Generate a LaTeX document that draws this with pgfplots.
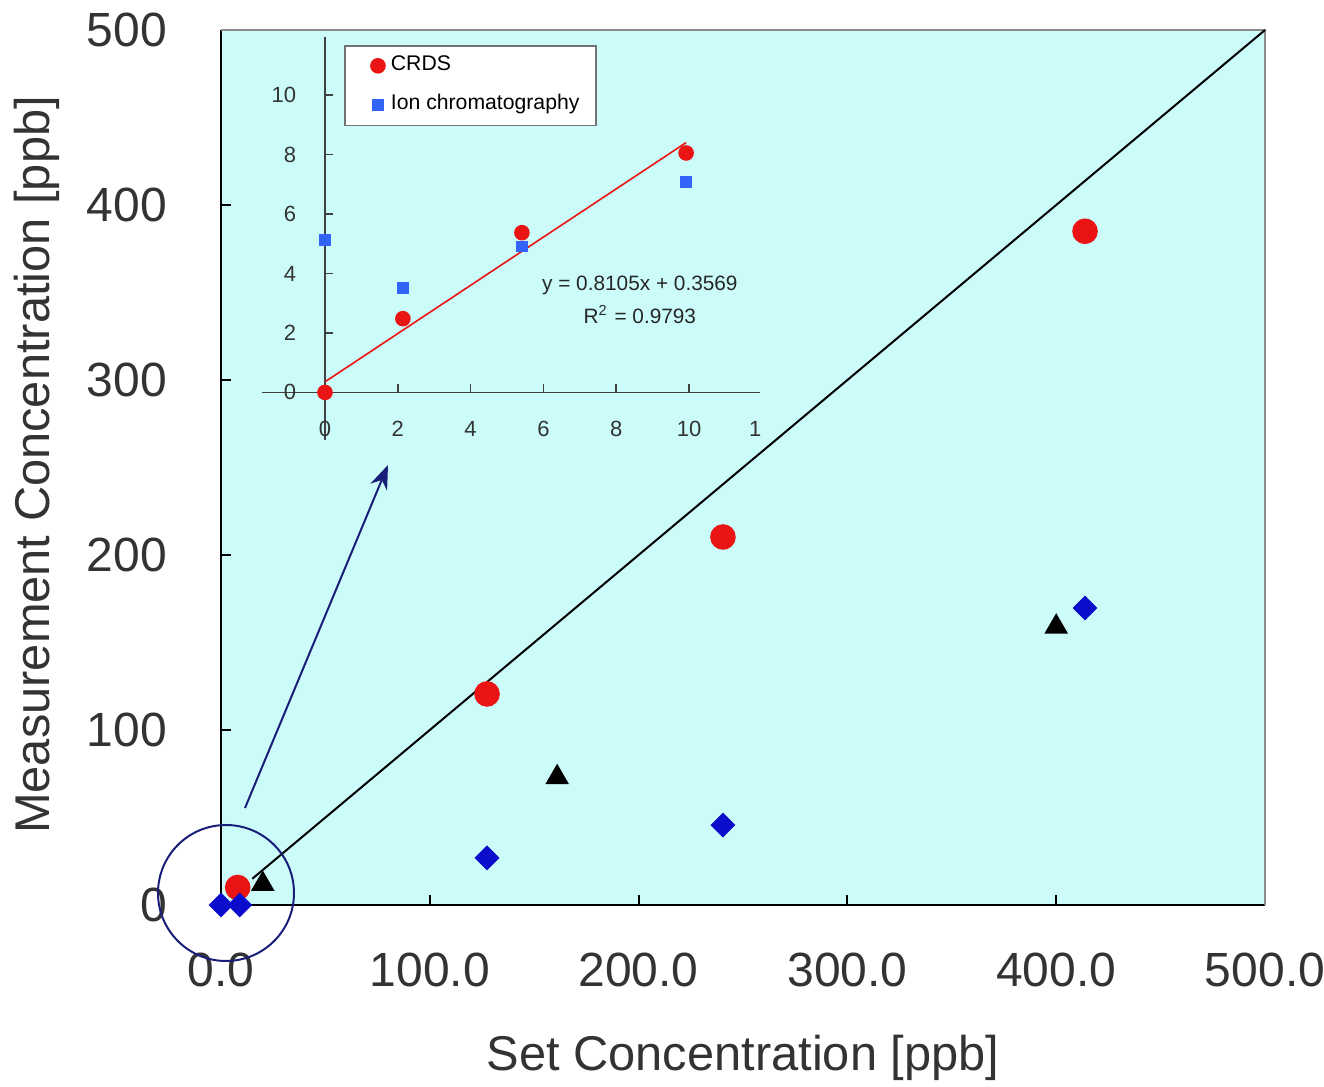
\documentclass[border=0pt]{standalone}
\usepackage{fontspec}
\setmainfont{Liberation Sans}
\usepackage{pgfplots}
\pgfplotsset{compat=1.18}
\usetikzlibrary{arrows.meta}
\definecolor{bgc}{RGB}{204,252,250}
\definecolor{mred}{RGB}{235,20,20}
\definecolor{mblue}{RGB}{12,12,205}
\definecolor{iblue}{RGB}{50,100,250}
\definecolor{navy}{RGB}{25,30,120}
\begin{document}
\begin{tikzpicture}
\path[use as bounding box] (0,0) rectangle (331bp,271.75bp);
\begin{axis}[
  at={(55.25bp,45.5bp)}, anchor=south west,
  scale only axis, width=261bp, height=218.75bp,
  xmin=0, xmax=500, ymin=0, ymax=500,
  axis background/.style={fill=bgc},
  axis x line*=bottom, axis y line*=left,
  axis line style={black, line width=0.6bp},
  tick align=inside, major tick length=2.5bp,
  tick style={black, line width=0.5bp},
  xtick={0,100,...,500}, ytick={0,100,...,500},
  xticklabels={0.0,100.0,200.0,300.0,400.0,500.0},
  yticklabels={0,100,200,300,400,500},
  tick label style={font=\fontsize{12bp}{14bp}\selectfont, text=black!80},
  xticklabel style={yshift=-8.5bp},
  yticklabel style={xshift=-10bp},
  xlabel={Set Concentration [ppb]},
  ylabel={Measurement Concentration [ppb]},
  label style={font=\fontsize{12.2bp}{14bp}\selectfont, text=black!80},
  x label style={at={(axis description cs:0.5,-0.175)}, anchor=center},
  y label style={at={(axis description cs:-0.176,0.503)}, anchor=center},
  clip=false,
]
\draw[black!45, line width=0.5bp] (rel axis cs:0,1) -- (rel axis cs:1,1) -- (rel axis cs:1,0);
\addplot[black, line width=0.5bp] coordinates {(15,15) (500,500)};
\addplot[only marks, mark=*, mark size=3bp, mred, mark options={fill=mred, draw=mred}]
  coordinates {(8,10) (127.4,120.6) (240.4,210.3) (413.8,385)};
\addplot[only marks, mark=square*, mark size=2bp, mblue, mark options={fill=mblue, draw=mblue, rotate=45}]
  coordinates {(0,0) (9,0) (127.4,26.9) (240.4,45.7) (413.8,169.7)};
\addplot[only marks, mark=triangle*, mark size=3bp, black, mark options={fill=black}]
  coordinates {(20,12) (161,73) (400,159)};
\end{axis}

\begin{axis}[
  at={(65.5bp,161.75bp)}, anchor=south west,
  scale only axis, width=124.5bp, height=100.75bp,
  xmin=-1.73, xmax=11.95, ymin=-1.6, ymax=11.95,
  axis lines=middle, axis line style={-, black!75, line width=0.4bp},
  axis background/.style={fill=bgc},
  hide obscured x ticks=false, hide obscured y ticks=false,
  /pgf/number format/assume math mode=true,
  xtick={0,2,...,10}, ytick={0,2,...,10},
  extra x ticks={11.82}, extra x tick labels={1},
  extra x tick style={major tick length=0pt},
  tick align=inside, major tick length=2bp,
  tick style={black!75, line width=0.4bp},
  tick label style={font=\fontsize{5.5bp}{6.5bp}\selectfont, text=black!80},
  xticklabel style={yshift=-3.7bp},
  yticklabel style={xshift=-3.7bp},
  legend style={at={(axis description cs:0.165,0.98)}, anchor=north west,
    draw=black!55, fill=white, font=\fontsize{5.3bp}{6.3bp}\selectfont,
    inner xsep=6.5bp, inner ysep=0.4bp, row sep=0.6bp},
  legend cell align=left,
  clip=false,
]
\addplot[only marks, mark=*, mark size=1.75bp, mred, mark options={fill=mred, draw=mred}]
  coordinates {(0,0) (2.14,2.48) (5.41,5.37) (9.92,8.05)};
\addlegendentry{\kern-0.5bp CRDS}
\addplot[only marks, mark=square*, mark size=1.25bp, iblue, mark options={fill=iblue, draw=iblue}]
  coordinates {(0,5.13) (2.14,3.52) (5.41,4.9) (9.92,7.08)};
\addlegendentry{\kern-0.5bp Ion chromatography\kern-4.3bp}
\addplot[mred, line width=0.4bp, forget plot] coordinates {(0,0.3569) (9.92,8.4)};
\node[font=\fontsize{5.2bp}{6.2bp}\selectfont, text=black!85] at (axis cs:8.65,3.6) {y = 0.8105x + 0.3569};
\node[font=\fontsize{5.2bp}{6.2bp}\selectfont, text=black!85] at (axis cs:8.65,2.62) {R\textsuperscript{2} = 0.9793};
\end{axis}

\draw[navy, line width=0.5bp, -{Stealth[length=6bp,width=4.5bp]}] (61.25bp,69.75bp) -- (97bp,155.5bp);
\draw[navy, line width=0.5bp] (56.5bp,48.5bp) circle (17bp);
\end{tikzpicture}
\end{document}
